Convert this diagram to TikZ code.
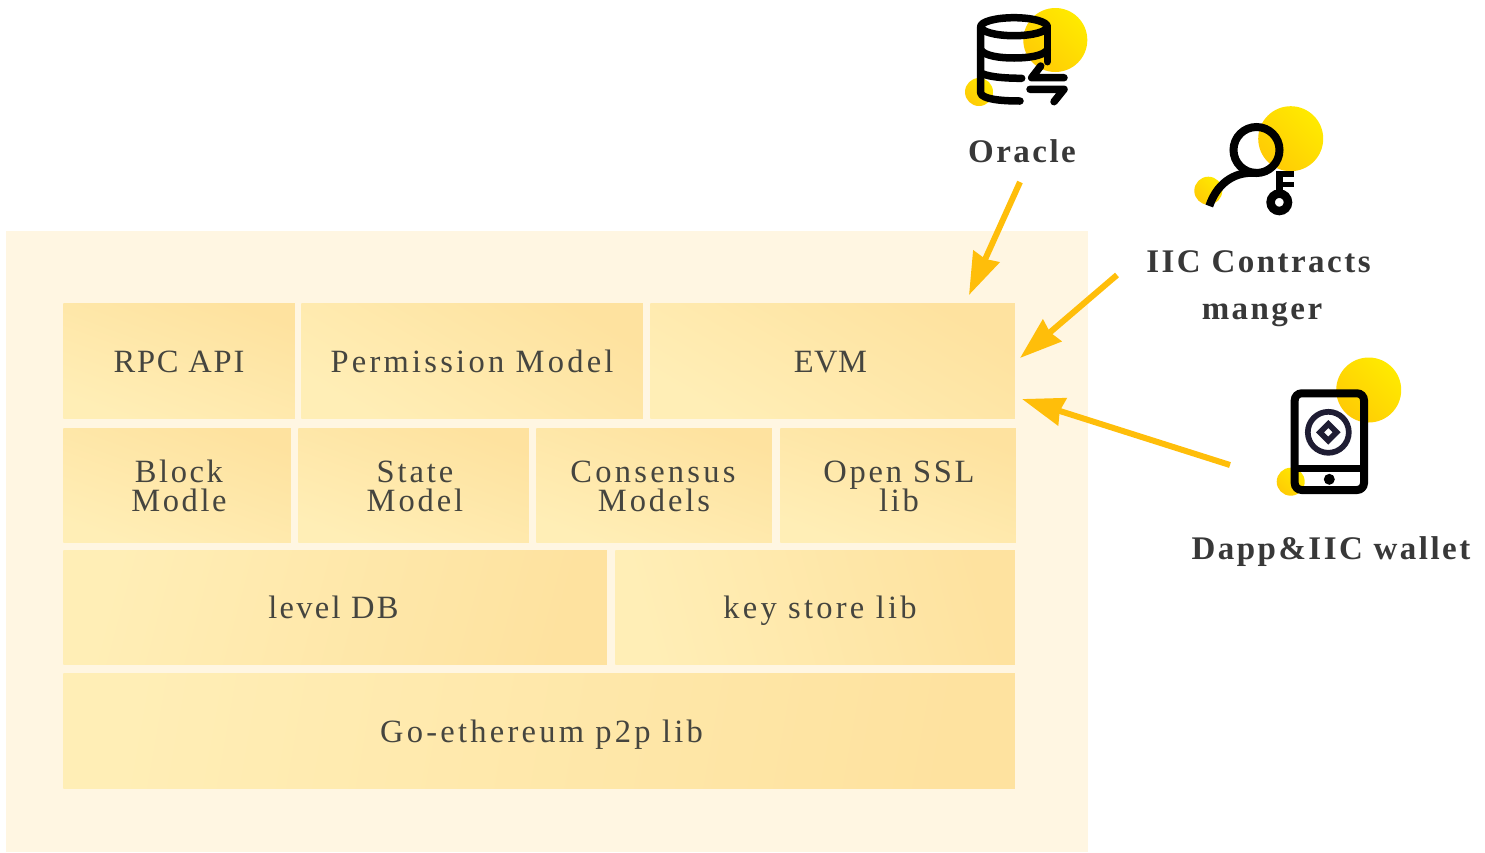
\documentclass[tikz,border=0pt]{standalone}
\usepackage{fontspec}
\usetikzlibrary{arrows.meta,calc}
\newfontfamily\boxfont[LetterSpace=9.5]{Liberation Serif}
\newfontfamily\labfont[LetterSpace=7.5]{Liberation Serif}[BoldFont={Liberation Serif Bold}]
\definecolor{panel}{HTML}{FFF6E2}
\definecolor{cellA}{HTML}{FFEEB6}
\definecolor{cellB}{HTML}{FEE29F}
\definecolor{txt}{HTML}{45453F}
\definecolor{lab}{HTML}{383838}
\definecolor{arr}{HTML}{FFBE0A}
\definecolor{ylA}{HTML}{FFEA00}
\definecolor{ylB}{HTML}{FFCB05}
\definecolor{coin}{HTML}{1F1D33}
\newcommand{\cl}[2]{\rule[-1pt]{0pt}{24pt}\smash{\addfontfeature{LetterSpace=#1}#2}}
\tikzset{
 x=1pt,y=-1pt,
 cell/.style={inner sep=0pt,outer sep=0pt,draw=none,left color=cellA,right color=cellB,
   font=\boxfont\fontsize{32.5}{29}\selectfont,text=txt,align=center},
 blob/.style={left color=ylB,right color=ylA,shading angle=135,draw=none},
 lbl/.style={font=\labfont\bfseries\fontsize{33}{47}\selectfont,text=lab,align=center,inner sep=0pt},
 link/.style={draw=arr,line width=6pt,-{Stealth[length=42pt,width=28pt,inset=2.5pt]}},
 ico/.style={draw=black,line width=7.5pt,line cap=round,line join=round},
 icobutt/.style={draw=black,line width=8pt,line cap=butt},
}
\begin{document}
\begin{tikzpicture}
\useasboundingbox (0,0) rectangle (1485,852);
\fill[panel] (6,231) rectangle (1088,852);
% cells
\foreach \nm/\xa/\ya/\xb/\yb/\ang/\tx in {
 rpc/63/303/295/419/160/{\cl{5.5}{RPC API}},
 perm/301/303/643/419/150/{\cl{10}{Permission Model}},
 evm/650/303/1015/419/150/{\cl{1.5}{EVM}\hspace*{4pt}},
 block/63/428/291/543/160/{\hspace*{4pt}\cl{8}{Block}\\\hspace*{4pt}\cl{8}{Modle}},
 state/298/428/529/543/160/{\hspace*{3pt}\cl{9}{State}\\\hspace*{3pt}\cl{9}{Model}},
 cons/536/428/772/543/160/{\hspace*{-2pt}\cl{10}{Consensus}\\\cl{9}{Models}},
 ssl/780/428/1016/543/160/{\hspace*{2pt}\cl{8.5}{Open SSL}\\\hspace*{2pt}\cl{8.5}{lib}},
 level/63/550/607/665/75/{\cl{7}{level DB}\hspace*{3pt}},
 key/615/550/1015/665/105/{\hspace*{10pt}\cl{10}{key store lib}},
 p2p/63/673/1015/789/80/{\hspace*{5pt}\cl{10}{Go-ethereum p2p lib}}}{
 \pgfmathsetmacro{\w}{\xb-\xa-0.5}\pgfmathsetmacro{\h}{\yb-\ya-0.7}
 \node[cell,shading angle=\ang,minimum width=\w pt,minimum height=\h pt] (\nm) at ({(\xa+\xb)/2},{(\ya+\yb)/2}) {\tx};
}
% Oracle icon
\path[blob] (1055.3,40) circle (32);
\path[blob] (979,92) circle (14);
\draw[ico] (1014,26.7) ellipse (33.3 and 9);
\draw[ico] (980.7,26.7) -- (980.7,93) .. controls (982,99) and (1000,101) .. (1020,101);
\draw[ico] (1047.3,26.7) -- (1047.3,61.7);
\draw[ico] (980.7,50) .. controls (985,56) and (1000,58) .. (1014,58) .. controls (1028,58) and (1043,56) .. (1047.3,50);
\draw[ico] (980.7,72.7) .. controls (985,76) and (1000,78.3) .. (1021.7,78.3);
\draw[ico] (1064,77.7) -- (1031.7,77.7) -- (1040.7,66);
\draw[ico] (1030,89.3) -- (1064,89.3) -- (1054,101.7);
\node[lbl] (oracle) at (1022,151) {Oracle};
% Key icon
\path[blob] (1290.7,138.7) circle (32.5);
\path[blob] (1208.3,190.7) circle (14);
\draw[icobutt] (1256.5,150) circle (23);
\draw[icobutt] (1256,173) .. controls (1232,171) and (1216,186) .. (1209.3,206);
\draw[draw=black,line width=8.5pt] (1279.3,202.3) circle (8.7);
\fill[black] (1276,170.7) rectangle (1283,195);
\fill[black] (1276,170.7) rectangle (1294,177);
\fill[black] (1276,181.5) rectangle (1294,186.7);
\node[lbl] (contracts) at (1258.5,289) {IIC Contracts\\\hspace*{7pt}manger};
% Phone icon
\path[blob] (1368.7,390) circle (32.5);
\path[blob] (1290.7,481.7) circle (14);
\draw[draw=black,line width=8pt,rounded corners=7pt] (1294.7,393.3) rectangle (1364,490);
\draw[draw=black,line width=7pt] (1294.7,468.3) -- (1364,468.3);
\fill[black] (1329.3,479.3) circle (5.5);
\draw[draw=coin,line width=5.7pt] (1328.3,432.3) circle (20.5);
\fill[coin,even odd rule] (1328.3,420) -- (1340.6,432.3) -- (1328.3,444.6) -- (1316,432.3) -- cycle
 (1328.3,428) -- (1332.6,432.3) -- (1328.3,436.6) -- (1324,432.3) -- cycle;
\node[lbl] (dapp) at (1331,552) {Dapp\&IIC wallet};
% connectors
\coordinate (oa) at (1020,182); \coordinate (ob) at (969,295);
\coordinate (ca) at (1117,275); \coordinate (cb) at (1020,358);
\coordinate (da) at (1230,465); \coordinate (db) at (1022,399);
\draw[link] (oa) -- (ob);
\draw[link] (ca) -- (cb);
\draw[link] (da) -- (db);
\end{tikzpicture}
\end{document}
